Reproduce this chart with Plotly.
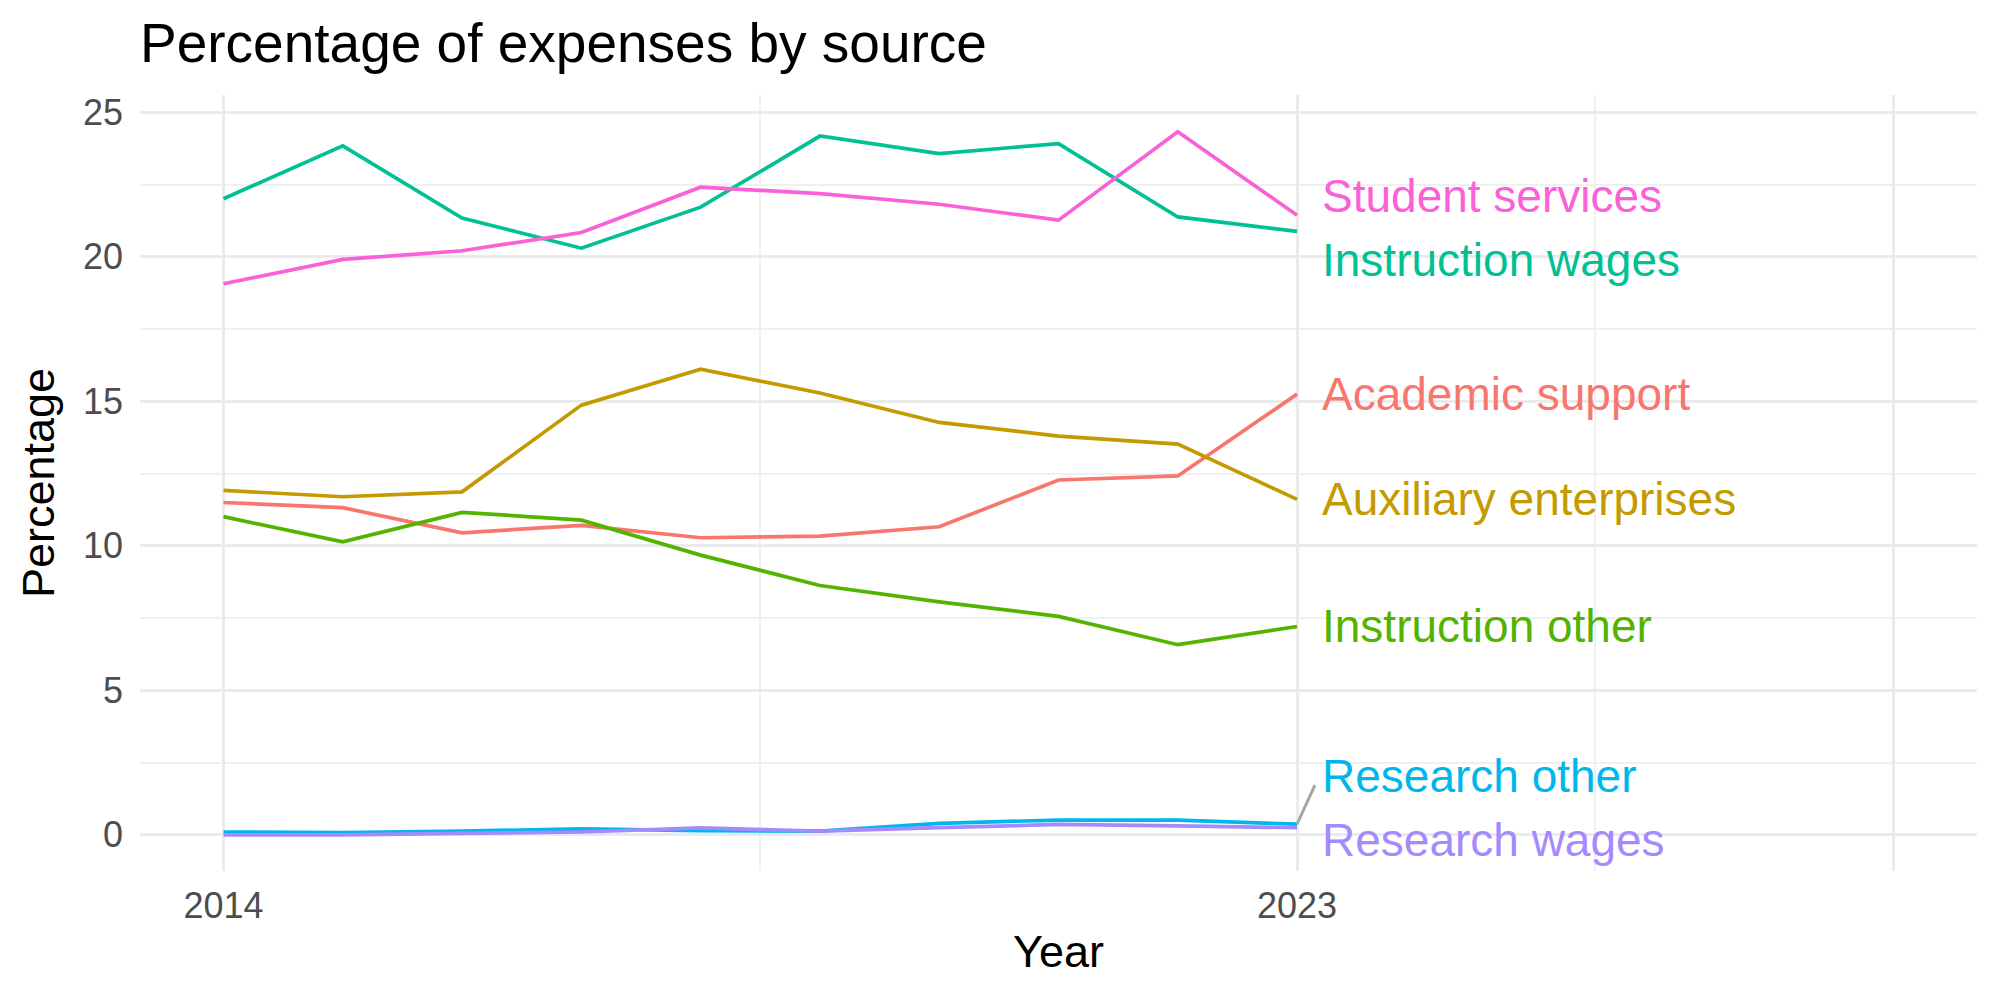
import plotly.graph_objects as go

years = [2014, 2015, 2016, 2017, 2018, 2019, 2020, 2021, 2022, 2023]

academic_support = [11.50, 11.32, 10.45, 10.71, 10.28, 10.34, 10.66, 12.28, 12.42, 15.25]
auxiliary_enterprises = [11.92, 11.70, 11.87, 14.87, 16.11, 15.29, 14.27, 13.80, 13.52, 11.61]
instruction_other = [11.01, 10.14, 11.16, 10.89, 9.68, 8.63, 8.06, 7.56, 6.58, 7.21]
instruction_wages = [22.01, 23.84, 21.34, 20.30, 21.72, 24.18, 23.57, 23.92, 21.38, 20.88]
research_other = [0.10, 0.08, 0.13, 0.21, 0.15, 0.13, 0.40, 0.51, 0.51, 0.37]
research_wages = [0.00, 0.00, 0.05, 0.10, 0.24, 0.13, 0.25, 0.36, 0.31, 0.25]
student_services = [19.07, 19.91, 20.21, 20.84, 22.41, 22.19, 21.82, 21.27, 24.33, 21.44]

series_names = ["Academic support", "Auxiliary enterprises", "Instruction other",
                "Instruction wages", "Research other", "Research wages", "Student services"]
series_values = [academic_support, auxiliary_enterprises, instruction_other,
                 instruction_wages, research_other, research_wages, student_services]
colors = ["#F8766D", "#C49A00", "#53B400", "#00C094", "#00B6EB", "#A58AFF", "#FB61D7"]

# label placement (repel-like offsets from the last value)
label_offsets = [0.0, 0.0, 0.0, -0.98, 1.67, -0.43, 0.68]

x_tickvals = [2014, 2023, 2028]
x_ticktext = ["2014", "2023", ""]
y_tickvals = [0, 5, 10, 15, 20, 25]

FONT = "Liberation Sans, Arial, Helvetica, sans-serif"

fig = go.Figure()
for name, vals, col in zip(series_names, series_values, colors):
    fig.add_trace(go.Scatter(x=years, y=vals, mode="lines", name=name,
                             line=dict(color=col, width=3.7), showlegend=False))

# connector segment for the repelled label
for name, vals, off in zip(series_names, series_values, label_offsets):
    if name == "Research other":
        fig.add_trace(go.Scatter(x=[years[-1], years[-1] + 0.15],
                                 y=[vals[-1], vals[-1] + off - 0.32],
                                 mode="lines", line=dict(color="#A6A6A6", width=3),
                                 showlegend=False, hoverinfo="skip"))

for name, vals, col, off in zip(series_names, series_values, colors, label_offsets):
    fig.add_annotation(x=years[-1] + 0.19, y=vals[-1] + off, text=name,
                       showarrow=False, xanchor="left", yanchor="middle",
                       font=dict(family=FONT, size=46, color=col))

fig.update_layout(
    width=2000, height=1000,
    paper_bgcolor="white", plot_bgcolor="white",
    margin=dict(l=140, r=23, t=95, b=129),
    title=dict(text="Percentage of expenses by source", x=140 / 2000, xanchor="left",
               xref="container", y=1 - 43 / 1000, yref="container", yanchor="middle",
               font=dict(family=FONT, size=55, color="black")),
    font=dict(family=FONT),
)

fig.update_xaxes(
    range=[2013.3, 2028.7], tickmode="array", tickvals=x_tickvals, ticktext=x_ticktext,
    showgrid=True, gridcolor="#EBEBEB", gridwidth=3.4, zeroline=False, showline=False,
    ticks="", ticklabelstandoff=10,
    tickfont=dict(family=FONT, size=36, color="#4D4D4D"),
    minor=dict(tickmode="array", tickvals=[2018.5, 2025.5], showgrid=True,
               gridcolor="#F0F0F0", gridwidth=1.8),
    title=dict(text="Year", font=dict(family=FONT, size=45, color="black"), standoff=10),
)
fig.update_yaxes(
    range=[-1.25, 25.6], tickmode="array", tickvals=y_tickvals,
    showgrid=True, gridcolor="#EBEBEB", gridwidth=3.4, zeroline=False, showline=False,
    ticks="", ticklabelstandoff=16,
    tickfont=dict(family=FONT, size=36, color="#4D4D4D"),
    minor=dict(dtick=2.5, tick0=0, showgrid=True, gridcolor="#F0F0F0", gridwidth=1.8),
    title=dict(text="Percentage", font=dict(family=FONT, size=45, color="black"), standoff=14),
)

fig.write_html("out.html")
